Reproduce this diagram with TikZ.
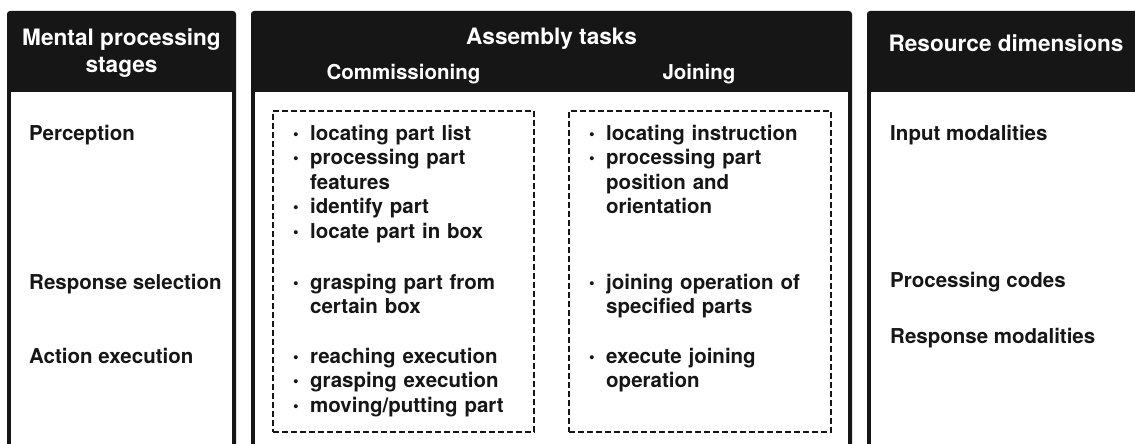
\documentclass[tikz,border=0pt]{standalone}
\usepackage{fontspec}
\setmainfont{TeX Gyre Heros}
\usepackage{tikz}

\definecolor{headfill}{RGB}{22,22,22}

% bullet entry with hanging indent
\newcommand{\bitem}[1]{\hangindent=17pt\hangafter=1%
  \makebox[17pt][l]{\raisebox{1pt}{\fontsize{16}{16}\selectfont\textbullet}}#1\par}

\begin{document}
\begin{tikzpicture}[x=1pt,y=-1pt,  % pixel-like units, y going down
    head/.style={
      text=white,
      font=\fontsize{22.6}{27}\selectfont\bfseries,
      align=center,
      inner sep=0pt,
      anchor=base
    },
    subhead/.style={
      text=white,
      font=\fontsize{20.5}{24.5}\selectfont\bfseries,
      inner sep=0pt,
      anchor=base
    },
    stage/.style={
      text=headfill,
      font=\fontsize{20.5}{24.5}\selectfont\bfseries,
      inner sep=0pt,
      anchor=base west
    },
    items/.style={
      text=headfill,
      font=\fontsize{20.5}{24.5}\selectfont\bfseries,
      text width=250pt,
      align=left,
      inner sep=0pt,
      anchor=base west
    },
    taskbox/.style={
      draw=headfill,
      line width=2.4pt,
      dash pattern=on 6pt off 3pt,
      inner sep=0pt
    }
  ]

    \useasboundingbox (0,0) rectangle (1135,444);
    \clip (0,0) rectangle (1135,444);

    % Panel frames (black head, white body)
    \foreach \xa/\xb in {7/236,251/852,867/1160} {
      \fill[headfill,rounded corners=3pt] (\xa,11) rectangle (\xb,470);
      \fill[white] (\xa+4,92) rectangle (\xb-4,470);
    }

    % Headings (base of a two-line node is its last line)
    \node[head] (stages) at (121.5,73) {Mental processing\\stages};
    \node[head] (tasks) at (551.5,45) {Assembly tasks};
    \node[subhead] (comm) at (403.5,79) {Commissioning};
    \node[subhead] (join) at (699,79) {Joining};
    \node[head] (res) at (1006,52) {Resource dimensions};

    % Dashed task boxes
    \node[taskbox,minimum width=261pt,minimum height=321pt] (commbox) at (403.5,271.5) {};
    \node[taskbox,minimum width=262pt,minimum height=321pt] (joinbox) at (700,271.5) {};

    % Stage labels
    \foreach \n/\y/\t in {perc/140/Perception,rsel/289/Response selection,aexe/363/Action execution} {
      \node[stage] (\n) at (29,\y) {\t};
    }

    % Resource labels
    \foreach \n/\y/\t in {inmod/140/Input modalities,pcode/287/Processing codes,rmod/343/Response modalities} {
      \node[stage] (\n) at (890,\y) {\t};
    }

    % Commissioning steps
    \node[items] (c1) at (293,140)
      {\bitem{locating part list}\bitem{processing part\newline features}%
       \bitem{identify part}\bitem{locate part in box}};
    \node[items] (c2) at (293,289)
      {\bitem{grasping part from\newline certain box}};
    \node[items] (c3) at (293,363)
      {\bitem{reaching execution}\bitem{grasping execution}%
       \bitem{moving/putting part}};

    % Joining steps
    \node[items] (j1) at (589,140)
      {\bitem{locating instruction}\bitem{processing part\newline position and\newline orientation}};
    \node[items] (j2) at (589,289)
      {\bitem{joining operation of\newline specified parts}};
    \node[items] (j3) at (589,363)
      {\bitem{execute joining\newline operation}};

  \end{tikzpicture}
\end{document}
